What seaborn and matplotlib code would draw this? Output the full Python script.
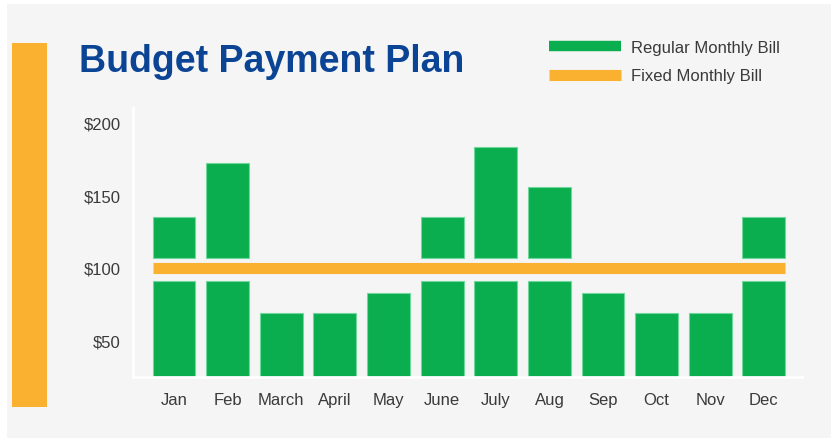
import numpy as np
import matplotlib
matplotlib.use("Agg")
import matplotlib.pyplot as plt
from matplotlib.patches import Rectangle
from matplotlib.lines import Line2D
import seaborn as sns

# Data
months = ['Jan', 'Feb', 'March', 'April', 'May', 'June', 'July', 'Aug', 'Sep', 'Oct', 'Nov', 'Dec']
regular_bill = [135, 172, 69, 69, 83, 135, 183, 156, 83, 69, 69, 135]
fixed_bill = 100
y_ticks = [50, 100, 150, 200]
y_tick_labels = ['$50', '$100', '$150', '$200']

# Styling
green = '#0bae4e'
green_edge = '#6fd89a'
orange = '#fbb130'
bg = '#f5f5f5'
navy = '#0b4494'
text_col = '#3a3a3a'
gap_low, gap_high = 91, 107  # break in the bars around the fixed line

sns.set_style('white')
plt.rcParams['font.family'] = ['Liberation Sans', 'DejaVu Sans']

fig = plt.figure(figsize=(8.31, 4.39), dpi=100, facecolor='white')
W, H = 831, 439

# grey panel and the orange side strip
fig.add_artist(Rectangle((7 / W, 0), 1, (H - 5) / H, transform=fig.transFigure,
                         facecolor=bg, edgecolor='none', zorder=-2))
fig.add_artist(Rectangle((12 / W, 1 - 408 / H), 35 / W, 364 / H, transform=fig.transFigure,
                         facecolor=orange, edgecolor='none', zorder=-1))

ax = fig.add_axes([133 / W, 1 - 378 / H, (802 - 133) / W, (378 - 109) / H])
ax.set_facecolor(bg)

reg = np.array(regular_bill)
lower = np.minimum(reg, gap_low)
sns.barplot(x=months, y=lower, color=green, saturation=1, width=0.8,
            edgecolor=green_edge, linewidth=0.8, ax=ax)

pos = np.arange(len(months))
mask = reg > gap_high
ax.bar(pos[mask], reg[mask] - gap_high, bottom=gap_high, width=0.8,
       color=green, edgecolor=green_edge, linewidth=0.8)

ax.hlines(fixed_bill, -0.4, len(months) - 0.6, color=orange, linewidth=8, zorder=3)

ax.set_xlim(-0.765, 11.71)
ax.set_ylim(25, 210)
ax.set_yticks(y_ticks)
ax.set_yticklabels(y_tick_labels)
ax.set_xlabel('')
ax.set_ylabel('')
ax.tick_params(axis='both', length=0, labelsize=12, labelcolor=text_col)
ax.tick_params(axis='x', pad=11)
ax.tick_params(axis='y', pad=9)

for side in ['top', 'right']:
    ax.spines[side].set_visible(False)
for side in ['left', 'bottom']:
    ax.spines[side].set_color('white')
    ax.spines[side].set_linewidth(2)

fig.text(79 / W, 1 - 72 / H, 'Budget Payment Plan', fontsize=27, fontweight='bold',
         color=navy, va='baseline', ha='left')

handles = [Line2D([], [], color=green, linewidth=7.5, solid_capstyle='butt'),
           Line2D([], [], color=orange, linewidth=8, solid_capstyle='butt')]
fig.legend(handles, ['Regular Monthly Bill', 'Fixed Monthly Bill'],
           loc='upper left', bbox_to_anchor=(549 / W, 1 - 41 / H),
           frameon=False, fontsize=12, labelcolor=text_col, handlelength=4.3,
           handletextpad=0.6, labelspacing=0.8, borderpad=0, borderaxespad=0)

fig.savefig('out.png', dpi=100, facecolor='white')
